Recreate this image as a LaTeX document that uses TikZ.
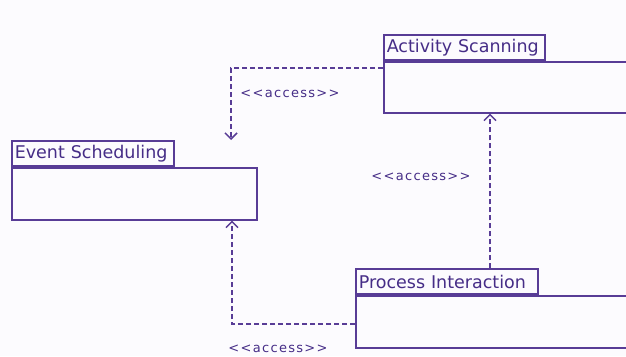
\documentclass[tikz,border=0pt]{standalone}
\usepackage{fontspec}
\setmainfont{DejaVu Sans}
\newfontfamily\lblfont[LetterSpace=10]{DejaVu Sans}
\usetikzlibrary{arrows.meta}
\definecolor{umlline}{RGB}{88,60,150}
\definecolor{umltext}{RGB}{70,45,135}
\definecolor{bgc}{RGB}{252,251,254}
\begin{document}
\begin{tikzpicture}[x=1pt,y=-1pt,
 tab/.style={draw=umlline, line width=1.6pt, anchor=south west, minimum height=25pt, inner xsep=3pt, inner ysep=0pt, align=left, text=umltext, font=\fontsize{17.5}{20}\selectfont},
 body/.style={draw=umlline, line width=1.6pt, anchor=north west, inner sep=0pt},
 dep/.style={draw=umlline, line width=1.5pt, dash pattern=on 5pt off 3pt, -{Straight Barb[length=6pt,width=12pt]}},
 lbl/.style={text=umltext, font=\lblfont\fontsize{13}{15}\selectfont, inner sep=0pt}]
\useasboundingbox (0,0) rectangle (626,356);
\fill[bgc] (0,0) rectangle (626,356);
\clip (0,0) rectangle (626,356);
% bodies
\node[body, minimum width=257pt, minimum height=51pt] (asBody) at (383,61) {};
\node[body, minimum width=245pt, minimum height=52pt] (esBody) at (11,167) {};
\node[body, minimum width=285pt, minimum height=52pt] (piBody) at (355,295) {};
% tabs
\node[tab, text width=155pt] (asTab) at (asBody.north west) {Activity Scanning};
\node[tab, text width=156pt] (esTab) at (esBody.north west) {Event Scheduling};
\node[tab, text width=176pt] (piTab) at (piBody.north west) {Process Interaction};
% free end
\coordinate (e1) at (231,140);
% connectors
\draw[dep] ([yshift=-7pt]asBody.north west) -| (e1);
\draw[dep] ([xshift=135pt]piTab.north west) -- ([xshift=107pt]asBody.south west);
\draw[dep] ([yshift=-29pt]piBody.north west) -| ([xshift=221pt]esBody.south west);
% labels
\node[lbl] (l1) at (290,94) {<<access>>};
\node[lbl] (l2) at (421,177) {<<access>>};
\node[lbl] (l3) at (278,348.5) {<<access>>};
\end{tikzpicture}
\end{document}
